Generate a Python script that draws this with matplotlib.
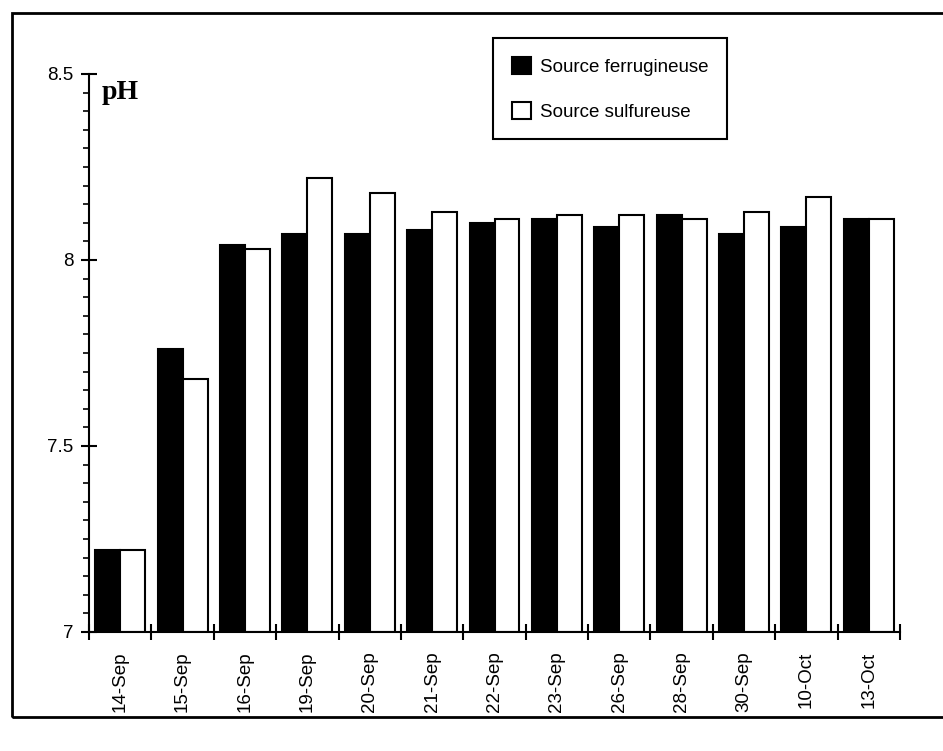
import matplotlib
matplotlib.use("Agg")
import matplotlib.pyplot as plt
import numpy as np
from matplotlib.patches import Rectangle
from matplotlib.ticker import MultipleLocator

dates = ["14-Sep", "15-Sep", "16-Sep", "19-Sep", "20-Sep", "21-Sep", "22-Sep",
         "23-Sep", "26-Sep", "28-Sep", "30-Sep", "10-Oct", "13-Oct"]
ferrugineuse = [7.22, 7.76, 8.04, 8.07, 8.07, 8.08, 8.10, 8.11, 8.09, 8.12, 8.07, 8.09, 8.11]
sulfureuse = [7.22, 7.68, 8.03, 8.22, 8.18, 8.13, 8.11, 8.12, 8.12, 8.11, 8.13, 8.17, 8.11]
yticks = [7, 7.5, 8, 8.5]
ytick_labels = ["7", "7.5", "8", "8.5"]

plt.rcParams['font.family'] = ['Liberation Sans', 'DejaVu Sans']

fig = plt.figure(figsize=(9.43, 7.51), dpi=100)
W, H = 943, 751

# outer frame
fig.patches.append(Rectangle((12 / W, 1 - 717 / H), (945 - 12) / W, (717 - 13) / H,
                             transform=fig.transFigure, fill=False,
                             edgecolor='black', linewidth=2))

left, right = 89 / W, 900 / W
bottom, top = 1 - 632 / H, 1 - 74 / H
ax = fig.add_axes([left, bottom, right - left, top - bottom])

x = np.arange(len(dates))
bw = 0.4
ax.bar(x - bw / 2, [v - 7 for v in ferrugineuse], bw, bottom=7, color='black',
       edgecolor='black', linewidth=1.5, label='Source ferrugineuse')
ax.bar(x + bw / 2, [v - 7 for v in sulfureuse], bw, bottom=7, color='white',
       edgecolor='black', linewidth=1.5, label='Source sulfureuse')

ax.set_xlim(-0.5, len(dates) - 0.5)
ax.set_ylim(7, 8.5)

for s in ['top', 'right']:
    ax.spines[s].set_visible(False)
for s in ['left', 'bottom']:
    ax.spines[s].set_linewidth(1.5)

ax.set_yticks(yticks)
ax.set_yticklabels(ytick_labels, fontsize=13.5)
ax.yaxis.set_minor_locator(MultipleLocator(0.05))
ax.tick_params(axis='y', which='major', direction='inout', length=12, width=1.5, pad=5)
ax.tick_params(axis='y', which='minor', direction='out', length=4, width=1.2)

# x ticks at category boundaries, labels at centres
ax.set_xticks(np.arange(len(dates) + 1) - 0.5)
ax.set_xticklabels([])
ax.set_xticks(x, minor=True)
ax.set_xticklabels(dates, minor=True, rotation=90, fontsize=13.5)
ax.tick_params(axis='x', which='major', direction='inout', length=12, width=1.5)
ax.tick_params(axis='x', which='minor', length=0, pad=14)

ax.text(0.015, 0.99, "pH", transform=ax.transAxes, fontsize=20, fontweight='bold',
        family='Liberation Serif', va='top', ha='left')

leg = ax.legend(loc='upper left', bbox_to_anchor=(493 / W, 1 - 38 / H),
                bbox_transform=fig.transFigure, fontsize=13.5, frameon=True,
                fancybox=False, edgecolor='black', framealpha=1,
                handlelength=1.0, handleheight=1.0, handletextpad=0.5,
                labelspacing=1.4, borderpad=1.0, borderaxespad=0)
leg.get_frame().set_linewidth(1.5)

fig.savefig("out.png", dpi=100)
